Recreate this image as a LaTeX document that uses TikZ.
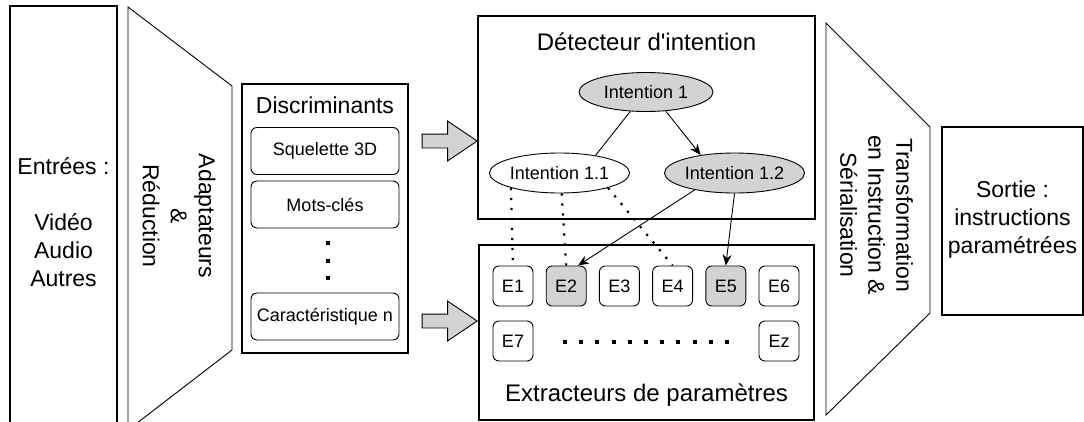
\documentclass[tikz,border=0pt]{standalone}
\usepackage{fontspec}
\setmainfont{Liberation Sans}
\usetikzlibrary{arrows.meta}
\usetikzlibrary{shapes.geometric}
\usetikzlibrary{shapes.arrows}
\usetikzlibrary{positioning}
\definecolor{lightgrey}{RGB}{211,211,211}
\tikzset{
  bigbox/.style={draw, line width=1.2pt, inner sep=0pt},
  bigtext/.style={font=\fontsize{23}{28}\selectfont, inner sep=0pt, align=center},
  titletext/.style={font=\fontsize{24}{28}\selectfont, inner sep=0pt},
  feat/.style={draw, line width=0.9pt, rounded corners=6pt, minimum width=148pt, minimum height=47pt, inner sep=0pt, font=\fontsize{18}{20}\selectfont},
  intent/.style={ellipse, draw, line width=0.9pt, minimum width=135pt, minimum height=40pt, inner sep=0pt, font=\fontsize{18}{20}\selectfont},
  extr/.style={draw, line width=0.9pt, rounded corners=6pt, minimum size=40pt, inner sep=0pt, font=\fontsize{18}{20}\selectfont},
  bigarrow/.style={single arrow, draw, line width=0.9pt, fill=lightgrey, minimum height=55pt, single arrow head extend=13pt, single arrow tip angle=68, inner xsep=0pt, inner ysep=6.5pt},
  link/.style={-{Stealth[length=11pt,width=9pt]}, line width=0.9pt},
  dotlink/.style={line width=2.2pt, dash pattern=on 2.2pt off 7.8pt}
}
\begin{document}
\begin{tikzpicture}[x=1pt,y=-1pt]
\clip (0,0) rectangle (1084,421);
% inputs
\node[bigbox, minimum width=107pt, minimum height=430pt] (inp) at (63.5,221) {};
\node[bigtext] (inptxt) at (63.5,222) {Entrées :\\[28pt]Vidéo\\Audio\\Autres};
% adapters
\coordinate (ad1) at (128,7);
\coordinate (ad2) at (232,86);
\coordinate (ad3) at (232,350);
\coordinate (ad4) at (128,430);
\draw[line width=0.9pt] (ad1) -- (ad2) -- (ad3) -- (ad4) -- cycle;
\node[bigtext, rotate=-90] (adtxt) at (179,216) {Adaptateurs\\\&\\Réduction};
% features
\node[bigbox, minimum width=166pt, minimum height=269pt] (disc) at (325,218.5) {};
\node[bigtext] (disctitle) at (325,105) {Discriminants};
\node[feat] (sq) at (325,151) {Squelette 3D};
\node[feat] (mc) at (325,204.5) {Mots-clés};
\node[feat] (car) at (325,316.5) {Caractéristique n};
\foreach \k in {0,1,2}
  \fill (326,241+17.5*\k) rectangle ++(4,4);
% block arrows
\node[bigarrow] (arrA) at (444.5,141) {};
\node[bigarrow] (arrB) at (444.5,321) {};
% intention detector
\node[bigbox, minimum width=337pt, minimum height=203pt] (det) at (646.5,117.5) {};
\node[titletext] (dettitle) at (646.5,42) {Détecteur d\textquotesingle intention};
\node[intent, fill=lightgrey, minimum width=134pt, minimum height=39pt] (i1) at (646,92) {Intention 1};
\node[intent] (i11) at (559.5,173) {Intention 1.1};
\node[intent, fill=lightgrey] (i12) at (734.5,173) {Intention 1.2};
\draw[line width=0.9pt] (i1.-129) -- (i11.26);
\draw[link] (i1.-44) -- (i12.152);
% parameter extractors
\node[bigbox, minimum width=335pt, minimum height=175pt] (ext) at (646.5,332.5) {};
\node[titletext] (exttitle) at (646.5,395) {Extracteurs de paramètres};
\node[extr] (e1) at (513,286) {E1};
\node[extr, fill=lightgrey] (e2) at (566.2,286) {E2};
\node[extr] (e3) at (619.4,286) {E3};
\node[extr] (e4) at (672.6,286) {E4};
\node[extr, fill=lightgrey] (e5) at (725.8,286) {E5};
\node[extr] (e6) at (779,286) {E6};
\node[extr] (e7) at (513,341) {E7};
\node[extr] (ez) at (779,341) {Ez};
\foreach \k in {0,...,10}
  \fill (563+16.2*\k,340) rectangle ++(4,4);
% links between intentions and extractors
\draw[dotlink] (i11.197) -- (e1.north);
\draw[dotlink] (i11.-84) -- (e2.north);
\draw[dotlink] (i11.-17) -- (e4.north);
\draw[link] (i12.203) -- (e2.60);
\draw[link] (i12.south) -- (e5.north);
% transformation
\coordinate (tr1) at (826,23);
\coordinate (tr2) at (930,127);
\coordinate (tr3) at (930,313);
\coordinate (tr4) at (826,415);
\draw[line width=0.9pt] (tr1) -- (tr2) -- (tr3) -- (tr4) -- cycle;
\node[bigtext, rotate=-90] (trtxt) at (876.5,215) {Transformation\\en Instruction \&\\Sérialisation};
% output
\node[bigbox, minimum width=141pt, minimum height=188pt] (out) at (1012.5,221) {};
\node[bigtext] (outtxt) at (1012.5,220) {Sortie :\\instructions\\paramétrées};
\end{tikzpicture}
\end{document}
